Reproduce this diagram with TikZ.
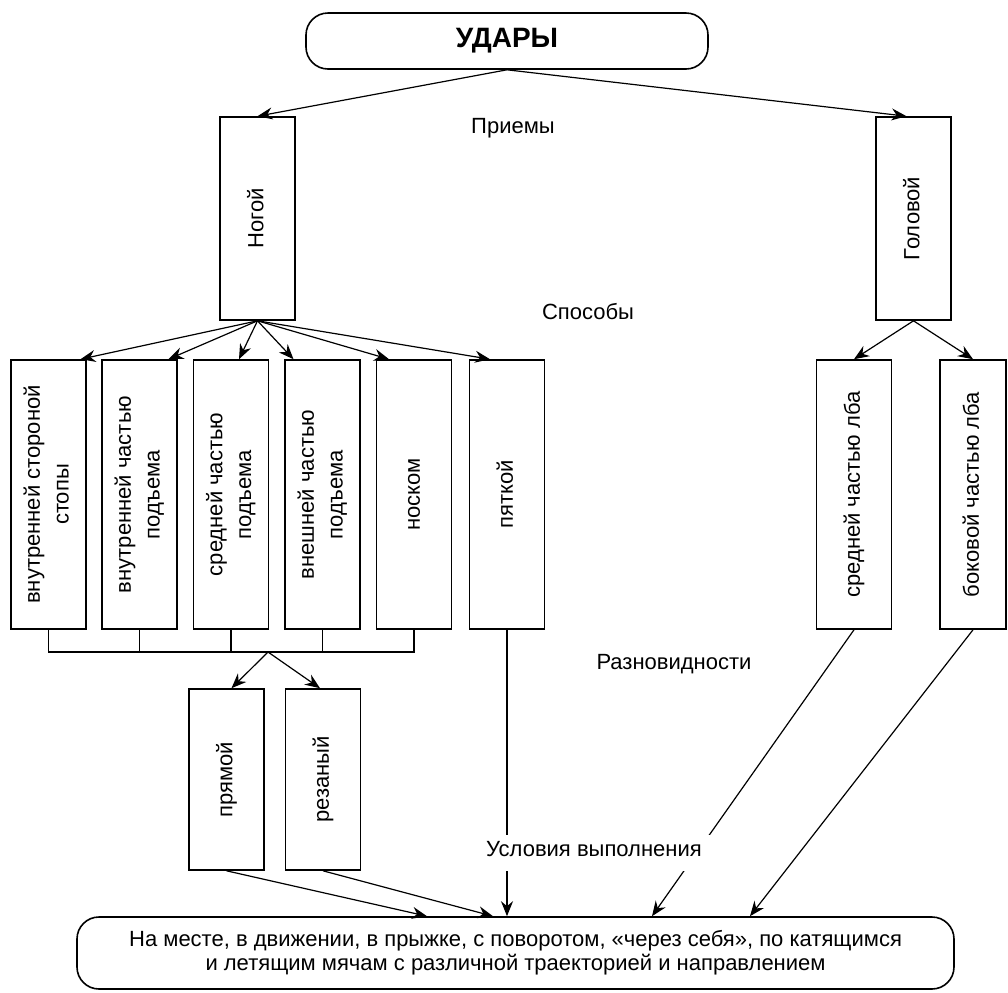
\documentclass[tikz,border=0pt]{standalone}
\usepackage{fontspec}
\setmainfont{Liberation Sans}
\usepackage{graphicx}
\usetikzlibrary{arrows.meta}

\newcommand{\vtext}[1]{\rotatebox{90}{\begin{tabular}{@{}c@{}}#1\end{tabular}}}

\begin{document}
\begin{tikzpicture}[x=0.5pt, y=-0.5pt, line width=0.6pt,
    >={Stealth[length=7.5pt, width=6pt, inset=2.5pt]},
    box/.style={draw, line width=0.8pt, inner sep=0pt, minimum width=37.5pt,
      font=\fontsize{11}{14.4}\selectfont},
    rbox/.style={draw, line width=0.8pt, rounded corners=11pt, inner sep=0pt},
    lbl/.style={anchor=base, font=\fontsize{11}{13}\selectfont}]

    \useasboundingbox (0,0) rectangle (1008,992);

    % верхний блок
    \node[rbox, minimum width=201pt, minimum height=28pt,
      font=\bfseries\fontsize{14}{16}\selectfont] (udary) at (507,41) {УДАРЫ};

    % приемы
    \node[box, minimum height=101.5pt] (nogoy) at (257.5,218.5) {\vtext{Ногой}};
    \node[box, minimum height=101.5pt] (golovoy) at (913.5,218.5) {\vtext{Головой}};
    \node[lbl] (priemy) at (513,133) {Приемы};
    \draw[->] (udary.south) -- (nogoy.north);
    \draw[->] (udary.south) -- ([xshift=-3.5pt]golovoy.north);

    % способы ногой
    \foreach \i/\x/\dx/\txt in {1/48.5/16/{внутренней стороной\\стопы},
        2/139.5/14.5/{внутренней частью\\подъема}, 3/231/4/{средней частью\\подъема},
        4/322.5/-14.5/{внешней частью\\подъема}, 5/414/-12.5/{носком}, 6/507/-8.5/{пяткой}} {
      \node[box, minimum height=134.5pt] (b\i) at (\x,494.5) {\vtext{\txt}};
      \draw[->] (nogoy.south) -- ([xshift=\dx pt]b\i.north);
    }

    % способы головой
    \node[box, minimum height=134.5pt] (sred) at (854,494.5) {\vtext{средней частью лба}};
    \node[box, minimum width=33pt, minimum height=134.5pt] (bok) at (973,494.5) {\vtext{боковой частью лба}};
    \node[lbl] (sposoby) at (588,319) {Способы};
    \draw[->] (golovoy.south) -- (sred.north);
    \draw[->] (golovoy.south) -- (bok.north);

    % разновидности
    \coordinate (razv) at (268,652);
    \draw (b1.south) -- (b1.south |- razv) -- (b5.south |- razv) -- (b5.south);
    \foreach \i in {2,3,4} \draw (b\i.south) -- (b\i.south |- razv);
    \node[box, minimum height=90.5pt] (pryamoy) at (226.5,779.5) {\vtext{прямой}};
    \node[box, minimum height=90.5pt] (rezany) at (323,779.5) {\vtext{резаный}};
    \draw[->] (razv) -- ([xshift=2.5pt]pryamoy.north);
    \draw[->] (razv) -- ([xshift=-1.5pt]rezany.north);
    \node[lbl] (raznov) at (674,669) {Разновидности};

    % условия выполнения
    \node[rbox, minimum width=438.5pt, minimum height=36pt, align=center,
      font=\fontsize{11}{12}\selectfont] (usl) at (515.5,953)
      {На месте, в движении, в прыжке, с поворотом, «через себя», по катящимся\\
       и летящим мячам с различной траекторией и направлением};
    \draw[->] (pryamoy.south) -- ([xshift=-44.25pt]usl.north);
    \draw[->] (rezany.south) -- ([xshift=-11.25pt]usl.north);
    \draw[->] (b6.south) -- (b6.south |- usl.north);
    \draw[->] (sred.south) -- ([xshift=68.25pt]usl.north);
    \draw[->] (bok.south) -- ([xshift=117.25pt]usl.north);
    \node[lbl, fill=white, text height=8pt, text depth=5pt, inner ysep=2.5pt,
      inner xsep=5pt] (uslov) at (594,856) {Условия выполнения};

  \end{tikzpicture}
\end{document}
